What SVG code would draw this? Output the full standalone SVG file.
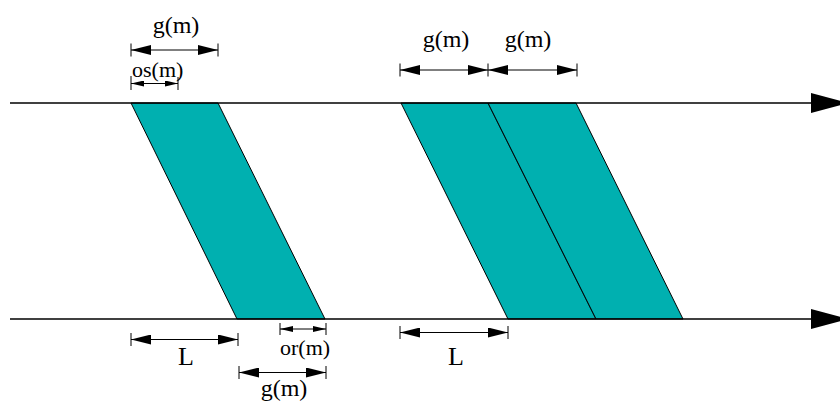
<svg xmlns="http://www.w3.org/2000/svg" width="840" height="403" viewBox="0 0 840 403">
  <style>
    .band { fill: #00B0B0; stroke: #000; stroke-width: 1; stroke-linejoin: miter; }
    .axis { stroke: #000; stroke-width: 1.5; fill: none; }
    .dim { stroke: #000; stroke-width: 1; fill: none; }
    .tick { stroke: #000; stroke-width: 1; }
    .lbl { font-family: "Liberation Serif", "Times New Roman", serif; fill: #000; }
  </style>
  <defs>
    <marker id="axisHead" viewBox="0 0 37 20" refX="37" refY="10" markerWidth="37" markerHeight="20" markerUnits="userSpaceOnUse" orient="auto">
      <path d="M0,0 L37,10 L0,20 Z" fill="#000"/>
    </marker>
    <marker id="bigHead" viewBox="0 0 20 10" refX="20" refY="5" markerWidth="20" markerHeight="10" markerUnits="userSpaceOnUse" orient="auto-start-reverse">
      <path d="M0,0 L20,5 L0,10 Z" fill="#000"/>
    </marker>
    <marker id="smallHead" viewBox="0 0 13 6" refX="13" refY="3" markerWidth="13" markerHeight="6" markerUnits="userSpaceOnUse" orient="auto-start-reverse">
      <path d="M0,0 L13,3 L0,6 Z" fill="#000"/>
    </marker>
  </defs>

  <g id="bands">
    <g id="band1"><polygon class="band" points="131,103 218,103 325,319 237,319"/></g>
    <g id="band2"><polygon class="band" points="401,103 488,103 596,319 508,319"/></g>
    <g id="band3"><polygon class="band" points="488,103 576,103 683,319 596,319"/></g>
  </g>

  <g id="axes">
    <line class="axis" x1="10" y1="103" x2="848" y2="103" marker-end="url(#axisHead)"/>
    <line class="axis" x1="10" y1="319" x2="848" y2="319" marker-end="url(#axisHead)"/>
  </g>

  <g id="connectors">
    <line class="dim" x1="131" y1="50" x2="218" y2="50" marker-start="url(#bigHead)" marker-end="url(#bigHead)"/>
    <line class="tick" x1="131" y1="43.5" x2="131" y2="56.5"/>
    <line class="tick" x1="218" y1="43.5" x2="218" y2="56.5"/>
    <line class="dim" x1="131" y1="83.5" x2="178" y2="83.5" marker-start="url(#smallHead)" marker-end="url(#smallHead)"/>
    <line class="tick" x1="131" y1="76" x2="131" y2="90"/>
    <line class="tick" x1="178" y1="77" x2="178" y2="90"/>
    <line class="dim" x1="400" y1="70" x2="488" y2="70" marker-start="url(#bigHead)" marker-end="url(#bigHead)"/>
    <line class="dim" x1="488" y1="70" x2="577" y2="70" marker-start="url(#bigHead)" marker-end="url(#bigHead)"/>
    <line class="tick" x1="400" y1="63.5" x2="400" y2="76.5"/>
    <line class="tick" x1="488" y1="63.5" x2="488" y2="76.5"/>
    <line class="tick" x1="577" y1="63.5" x2="577" y2="76.5"/>
    <line class="dim" x1="131" y1="339.5" x2="238" y2="339.5" marker-start="url(#bigHead)" marker-end="url(#bigHead)"/>
    <line class="tick" x1="131" y1="333" x2="131" y2="346"/>
    <line class="tick" x1="238" y1="333" x2="238" y2="346"/>
    <line class="dim" x1="280" y1="329" x2="326" y2="329" marker-start="url(#smallHead)" marker-end="url(#smallHead)"/>
    <line class="tick" x1="280" y1="323" x2="280" y2="335"/>
    <line class="tick" x1="326" y1="323" x2="326" y2="335"/>
    <line class="dim" x1="239" y1="372.5" x2="326" y2="372.5" marker-start="url(#bigHead)" marker-end="url(#bigHead)"/>
    <line class="tick" x1="239" y1="366" x2="239" y2="379"/>
    <line class="tick" x1="326" y1="366" x2="326" y2="379"/>
    <line class="dim" x1="400" y1="332.5" x2="508" y2="332.5" marker-start="url(#bigHead)" marker-end="url(#bigHead)"/>
    <line class="tick" x1="400" y1="326" x2="400" y2="339"/>
    <line class="tick" x1="508" y1="326" x2="508" y2="339"/>
  </g>

  <g id="labels">
    <text class="lbl" x="176" y="33" font-size="24" text-anchor="middle">g(m)</text>
    <text class="lbl" x="132" y="77" font-size="22">os(m)</text>
    <text class="lbl" x="446" y="47" font-size="24" text-anchor="middle">g(m)</text>
    <text class="lbl" x="528" y="47" font-size="24" text-anchor="middle">g(m)</text>
    <text class="lbl" x="186" y="365" font-size="26" text-anchor="middle">L</text>
    <text class="lbl" x="280" y="355" font-size="22">or(m)</text>
    <text class="lbl" x="284" y="396" font-size="24" text-anchor="middle">g(m)</text>
    <text class="lbl" x="456" y="365" font-size="26" text-anchor="middle">L</text>
  </g>
</svg>
